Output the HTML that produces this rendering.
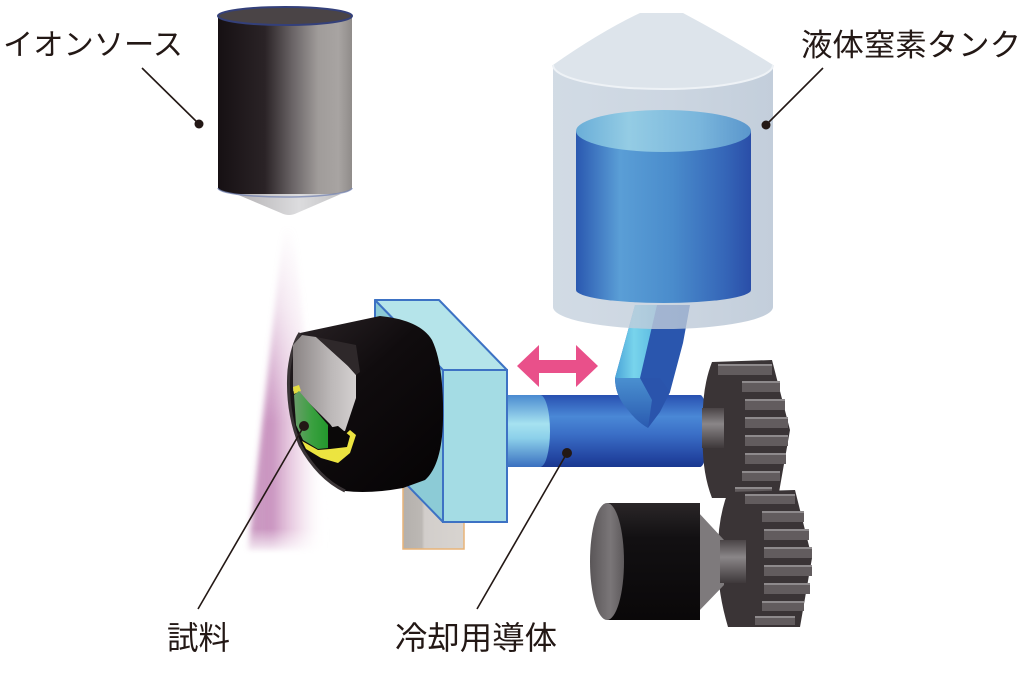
<!DOCTYPE html>
<html><head><meta charset="utf-8">
<style>
html,body{margin:0;padding:0;background:#fff;}
svg{display:block;}
text{font-family:"Liberation Sans","Noto Sans CJK JP",sans-serif;fill:#231815;}
</style></head>
<body>
<svg width="1024" height="682" viewBox="0 0 1024 682" xmlns="http://www.w3.org/2000/svg">
<defs>
  <linearGradient id="ionBody" x1="218" x2="352" y1="0" y2="0" gradientUnits="userSpaceOnUse">
    <stop offset="0" stop-color="#161013"/>
    <stop offset="0.35" stop-color="#2a2326"/>
    <stop offset="0.55" stop-color="#686264"/>
    <stop offset="0.75" stop-color="#a09c9a"/>
    <stop offset="0.9" stop-color="#a8a4a2"/>
    <stop offset="1" stop-color="#908c8a"/>
  </linearGradient>
  <linearGradient id="cone" x1="236" x2="341" gradientUnits="userSpaceOnUse">
    <stop offset="0" stop-color="#b4b2b4"/>
    <stop offset="0.6" stop-color="#dcdcde"/>
    <stop offset="1" stop-color="#c4c4c6"/>
  </linearGradient>
  <linearGradient id="beamH" x1="250" x2="326" gradientUnits="userSpaceOnUse">
    <stop offset="0" stop-color="#a04890" stop-opacity="0.55"/>
    <stop offset="0.3" stop-color="#a85098" stop-opacity="0.6"/>
    <stop offset="0.65" stop-color="#d8a0c8" stop-opacity="0.35"/>
    <stop offset="1" stop-color="#ffffff" stop-opacity="0"/>
  </linearGradient>
  <linearGradient id="beamV" x1="0" x2="0" y1="225" y2="555" gradientUnits="userSpaceOnUse">
    <stop offset="0" stop-color="#000"/>
    <stop offset="0.25" stop-color="#555"/>
    <stop offset="0.6" stop-color="#fff"/>
    <stop offset="0.92" stop-color="#fff"/>
    <stop offset="1" stop-color="#000"/>
  </linearGradient>
  <mask id="beamMask" maskUnits="userSpaceOnUse" x="0" y="0" width="1024" height="682">
    <rect x="200" y="220" width="160" height="340" fill="url(#beamV)"/>
  </mask>
  <filter id="blur3" x="-20%" y="-5%" width="140%" height="110%"><feGaussianBlur stdDeviation="3"/></filter>

  <linearGradient id="tankBody" x1="553" x2="773" gradientUnits="userSpaceOnUse">
    <stop offset="0" stop-color="#c6d2de"/>
    <stop offset="0.5" stop-color="#c0ccda"/>
    <stop offset="1" stop-color="#b4c2d2"/>
  </linearGradient>
  <linearGradient id="inner" x1="576" x2="751" gradientUnits="userSpaceOnUse">
    <stop offset="0" stop-color="#2a58b0"/>
    <stop offset="0.25" stop-color="#5a9ed6"/>
    <stop offset="0.55" stop-color="#4a8ccc"/>
    <stop offset="0.85" stop-color="#3566b8"/>
    <stop offset="1" stop-color="#2a4ea8"/>
  </linearGradient>
  <linearGradient id="innerTop" x1="576" x2="751" gradientUnits="userSpaceOnUse">
    <stop offset="0" stop-color="#6aaed8"/>
    <stop offset="0.3" stop-color="#94cce4"/>
    <stop offset="0.7" stop-color="#7ab6dc"/>
    <stop offset="1" stop-color="#5a96cc"/>
  </linearGradient>

  <linearGradient id="pipeL" x1="615" x2="657" gradientUnits="userSpaceOnUse">
    <stop offset="0" stop-color="#4aa4d8"/>
    <stop offset="0.45" stop-color="#78d4ec"/>
    <stop offset="1" stop-color="#5ab8e0"/>
  </linearGradient>
  <linearGradient id="elbow" x1="0" x2="0" y1="378" y2="428" gradientUnits="userSpaceOnUse">
    <stop offset="0" stop-color="#4a90d0"/>
    <stop offset="1" stop-color="#2a5ab0"/>
  </linearGradient>

  <linearGradient id="rod" x1="0" x2="0" y1="395" y2="467" gradientUnits="userSpaceOnUse">
    <stop offset="0" stop-color="#2850b0"/>
    <stop offset="0.3" stop-color="#4a88d6"/>
    <stop offset="0.55" stop-color="#3a6ec6"/>
    <stop offset="0.85" stop-color="#2448a4"/>
    <stop offset="1" stop-color="#1a3890"/>
  </linearGradient>
  <linearGradient id="sleeve" x1="0" x2="0" y1="395" y2="467" gradientUnits="userSpaceOnUse">
    <stop offset="0" stop-color="#4a8ad0"/>
    <stop offset="0.4" stop-color="#a6e2f0"/>
    <stop offset="0.6" stop-color="#8cd0ea"/>
    <stop offset="1" stop-color="#3a70c0"/>
  </linearGradient>

  <linearGradient id="holder" x1="290" x2="444" y1="320" y2="490" gradientUnits="userSpaceOnUse">
    <stop offset="0" stop-color="#2a2326"/>
    <stop offset="0.4" stop-color="#100c0e"/>
    <stop offset="1" stop-color="#050304"/>
  </linearGradient>
  <linearGradient id="slab" x1="293" x2="356" gradientUnits="userSpaceOnUse">
    <stop offset="0" stop-color="#8a8484"/>
    <stop offset="0.6" stop-color="#bcb8b8"/>
    <stop offset="1" stop-color="#d4d0d0"/>
  </linearGradient>
  <linearGradient id="green" x1="294" x2="330" gradientUnits="userSpaceOnUse">
    <stop offset="0" stop-color="#6a9e6a"/>
    <stop offset="0.5" stop-color="#3aa040"/>
    <stop offset="1" stop-color="#20962a"/>
  </linearGradient>

  <linearGradient id="motorFace" x1="590" x2="624" gradientUnits="userSpaceOnUse">
    <stop offset="0" stop-color="#5a5658"/>
    <stop offset="0.6" stop-color="#7a7678"/>
    <stop offset="1" stop-color="#5e5a5c"/>
  </linearGradient>
  <linearGradient id="motorBody" x1="0" x2="0" y1="503" y2="620" gradientUnits="userSpaceOnUse">
    <stop offset="0" stop-color="#2a2628"/>
    <stop offset="0.3" stop-color="#121012"/>
    <stop offset="1" stop-color="#0a0809"/>
  </linearGradient>
  <linearGradient id="grayV" x1="0" x2="0" y1="0" y2="1">
    <stop offset="0" stop-color="#4a4446"/>
    <stop offset="0.4" stop-color="#8a8688"/>
    <stop offset="1" stop-color="#3e383a"/>
  </linearGradient>
  <linearGradient id="post" x1="403" x2="465" gradientUnits="userSpaceOnUse">
    <stop offset="0" stop-color="#b4b0ac"/>
    <stop offset="0.3" stop-color="#bcb8b4"/>
    <stop offset="0.35" stop-color="#d2cecb"/>
    <stop offset="1" stop-color="#d8d4d0"/>
  </linearGradient>
</defs>

<!-- ion beam -->
<g mask="url(#beamMask)">
  <polygon points="284,222 293,222 328,552 248,552" fill="url(#beamH)" filter="url(#blur3)"/>
</g>

<!-- ion source -->
<path d="M218,16 L218,188 A67,9 0 0 0 352,188 L352,16 Z" fill="url(#ionBody)"/>
<path d="M236,194 L341,194 L297,213 Q289,217 281,213 Z" fill="url(#cone)"/>
<path d="M218,188 A67,9 0 0 0 352,188" fill="none" stroke="#7080b0" stroke-width="1.5" opacity="0.7"/>
<ellipse cx="285" cy="16" rx="67" ry="9" fill="#4a4446" stroke="#34407a" stroke-width="2"/>

<!-- pipe (behind tank) -->
<path d="M635,305 L690,305 L683,343 L670,392 L660,412 L648,428 Q636,421 628,410 Q615,396 615,378 Z" fill="#2a56ae"/>
<polygon points="635,305 657,305 640,378 615,378" fill="url(#pipeL)"/>

<!-- tank -->
<path d="M553,65 L553,307 A110,22 0 0 0 773,307 L773,65 Z" fill="url(#tankBody)" fill-opacity="0.8"/>
<path d="M553,65 Q600,32 640,13 L683,13 Q730,38 773,65 A110,24 0 0 1 553,65 Z" fill="#dde4eb"/>
<path d="M553,65 A110,24 0 0 0 773,65" fill="none" stroke="#eef2f6" stroke-width="2"/>
<path d="M576,131 L576,290 A87.5,13 0 0 0 751,290 L751,131 Z" fill="url(#inner)"/>
<ellipse cx="663.5" cy="131" rx="87.5" ry="21" fill="url(#innerTop)"/>

<!-- post under box -->
<rect x="403" y="470" width="61" height="79" fill="url(#post)" stroke="#e8b478" stroke-width="1.5"/>

<!-- main rod -->
<path d="M500,395 L700,395 A8,36 0 0 1 700,467 L500,467 Z" fill="url(#rod)"/>
<path d="M500,395 L540,395 A10,36 0 0 1 540,467 L500,467 Z" fill="url(#sleeve)"/>

<!-- pipe front over rod -->
<path d="M640,378 L660,378 L670,392 L660,412 L648,428 Z" fill="#2a54ac"/>
<path d="M615,378 L640,378 L652,400 L648,428 Q636,421 628,410 Q615,396 615,378 Z" fill="url(#elbow)"/>

<!-- box -->
<polygon points="375,300 443,370 443,522 375,452" fill="#8ccbd6" stroke="#3d72c4" stroke-width="2" stroke-linejoin="round"/>
<polygon points="375,300 439,300 507,370 443,370" fill="#b5e4ea" stroke="#3d72c4" stroke-width="2" stroke-linejoin="round"/>
<rect x="443" y="370" width="64" height="152" fill="#a4dce4" stroke="#3d72c4" stroke-width="2"/>

<!-- sample holder -->
<path d="M300,333 L380,316 Q420,320 432,340 Q444,365 443,420 Q442,465 425,480 L403,488 Q370,494 345,491 Q318,478 300,445 Q286,410 289,370 Q292,345 300,333 Z" fill="url(#holder)"/>
<path d="M300,333 Q292,345 289,370 Q286,410 300,445 Q318,478 345,491" fill="none" stroke="#3a3436" stroke-width="3"/>
<path d="M293,345 L302,335 L316,337 L348,366 L356,375 L356,398 L345,431 L336,432 L330,424 L300,394 L293,391 Z" fill="url(#slab)"/>
<path d="M316,337 L348,366 L356,375 L360,372 L356,345 Z" fill="#2e282a"/>
<polygon points="293,387 299,385 301,391 294,394" fill="#e4dc40"/>
<polygon points="294,395 299,391 328,425 328,448 318,449 303,440 296,425" fill="url(#green)"/>
<polygon points="302,441 318,450 330,449 350,430 356,435 350,453 338,463 321,458 306,449" fill="#ece440"/>
<polygon points="328,428 338,426 350,436 347,447 330,449" fill="#0a0808"/>

<!-- gears -->
<path d="M712,362 L772,360 L790,430 L778,498 L712,498 Q701,470 703,430 Q701,390 712,362 Z" fill="#3a3436"/>
<g fill="#625c5e">
  <rect x="718" y="364" width="54" height="11"/>
  <rect x="742" y="381" width="38" height="11"/>
  <rect x="745" y="399" width="40" height="11"/>
  <rect x="745" y="417" width="43" height="11"/>
  <rect x="745" y="435" width="43" height="11"/>
  <rect x="745" y="453" width="41" height="11"/>
  <rect x="742" y="471" width="38" height="10"/>
  <rect x="735" y="487" width="37" height="9"/>
</g>
<g fill="#8e8a8c">
  <rect x="718" y="364" width="54" height="2"/>
  <rect x="742" y="381" width="38" height="2"/>
  <rect x="745" y="399" width="40" height="2"/>
  <rect x="745" y="417" width="43" height="2"/>
  <rect x="745" y="435" width="43" height="2"/>
  <rect x="745" y="453" width="41" height="2"/>
  <rect x="742" y="471" width="38" height="2"/>
  <rect x="735" y="487" width="37" height="2"/>
</g>

<path d="M728,492 L795,490 L812,558 L800,627 L728,627 Q717,590 718,558 Q717,520 728,492 Z" fill="#3a3436"/>
<g fill="#625c5e">
  <rect x="745" y="494" width="50" height="10"/>
  <rect x="762" y="511" width="42" height="11"/>
  <rect x="764" y="529" width="45" height="11"/>
  <rect x="764" y="547" width="48" height="11"/>
  <rect x="764" y="565" width="48" height="11"/>
  <rect x="764" y="583" width="46" height="11"/>
  <rect x="762" y="601" width="42" height="10"/>
  <rect x="755" y="616" width="40" height="9"/>
</g>
<g fill="#8e8a8c">
  <rect x="745" y="494" width="50" height="2"/>
  <rect x="762" y="511" width="42" height="2"/>
  <rect x="764" y="529" width="45" height="2"/>
  <rect x="764" y="547" width="48" height="2"/>
  <rect x="764" y="565" width="48" height="2"/>
  <rect x="764" y="583" width="46" height="2"/>
  <rect x="762" y="601" width="42" height="2"/>
  <rect x="755" y="616" width="40" height="2"/>
</g>

<!-- upper shaft -->
<rect x="702" y="408" width="22" height="40" fill="url(#grayV)"/>

<!-- motor -->
<polygon points="698,512 698,612 724,585 724,540" fill="#7e7a7c"/>
<rect x="720" y="540" width="26" height="43" fill="url(#grayV)"/>
<rect x="607" y="503" width="93" height="117" fill="url(#motorBody)"/>
<ellipse cx="607" cy="561.5" rx="17" ry="58.5" fill="url(#motorFace)"/>

<!-- pink arrow -->
<polygon points="517,366 539,345 539,360 576,360 576,345 598,366 576,387 576,373 539,373 539,387" fill="#e9508a"/>

<!-- leader lines -->
<g stroke="#231815" stroke-width="1.6" fill="none">
  <line x1="142" y1="68" x2="199" y2="124"/>
  <line x1="823" y1="68" x2="766" y2="125"/>
  <line x1="304" y1="426" x2="198" y2="609"/>
  <line x1="567" y1="453" x2="477" y2="609"/>
</g>
<g fill="#231815">
  <circle cx="199" cy="124" r="4.5"/>
  <circle cx="766" cy="125" r="4.5"/>
  <circle cx="304" cy="426" r="5"/>
  <circle cx="567" cy="453" r="5"/>
</g>

<!-- labels -->
<text x="3" y="55" font-size="30" textLength="180" lengthAdjust="spacingAndGlyphs">イオンソース</text>
<text x="801" y="56" font-size="31" textLength="220" lengthAdjust="spacingAndGlyphs">液体窒素タンク</text>
<text x="167" y="649" font-size="32" textLength="63" lengthAdjust="spacingAndGlyphs">試料</text>
<text x="395" y="649" font-size="32" textLength="162" lengthAdjust="spacingAndGlyphs">冷却用導体</text>
</svg>
</body></html>
